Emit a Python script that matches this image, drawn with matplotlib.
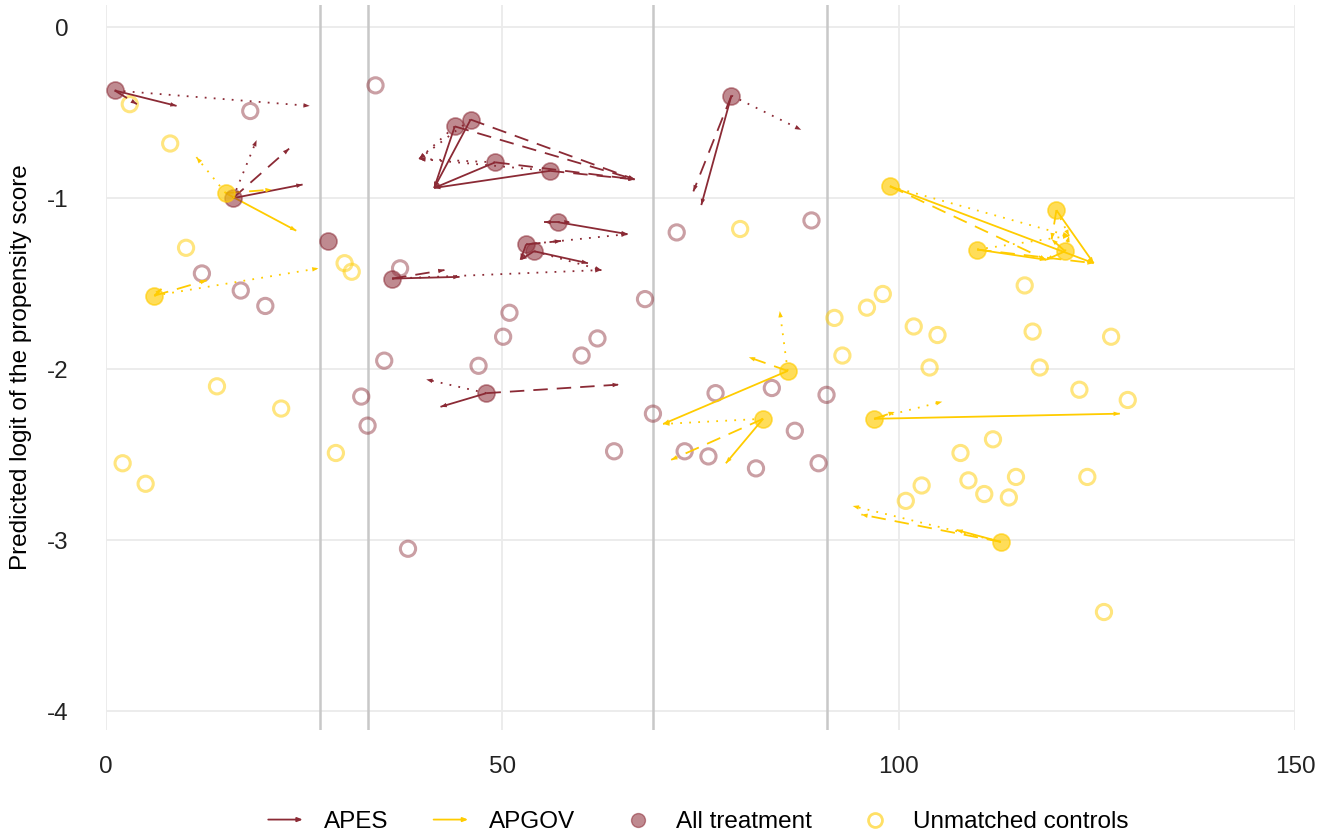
import matplotlib
matplotlib.use("Agg")
import matplotlib.pyplot as plt
from matplotlib.patches import FancyArrowPatch
from matplotlib.legend_handler import HandlerBase
from matplotlib.lines import Line2D

plt.rcParams["font.family"] = ["Liberation Sans", "DejaVu Sans"]

# caliper / cutoff lines
cutoffs = [27, 33, 69, 91]

# APES treated units and their 1st (solid), 2nd (dashed), 3rd (dotted) matches
apes_tx_x = [1.1, 16.0, 28.0, 36.1, 44.0, 46.0, 49.1, 56.0, 57.0, 53.0, 54.0, 48.0, 78.9]
apes_tx_y = [-0.37, -1.00, -1.25, -1.47, -0.58, -0.54, -0.79, -0.84, -1.14, -1.27, -1.31, -2.14, -0.40]
apes_m1_x = [8.9, 24.8, None, 44.6, 41.4, 41.4, 41.4, 41.4, 65.8, 52.3, 60.8, 42.2, 75.1]
apes_m1_y = [-0.46, -0.92, None, -1.46, -0.94, -0.94, -0.94, -0.94, -1.21, -1.36, -1.38, -2.22, -1.04]
apes_m2_x = [3.9, 23.1, None, 42.7, 66.7, 66.7, 66.7, 66.7, 55.3, 57.4, 52.3, 64.7, 74.1]
apes_m2_y = [-0.45, -0.71, None, -1.42, -0.89, -0.89, -0.89, -0.89, -1.14, -1.25, -1.36, -2.09, -0.96]
apes_m3_x = [25.7, 19.0, None, 62.5, 39.5, 39.5, 39.5, 39.5, 58.6, 65.8, 62.5, 40.4, 87.7]
apes_m3_y = [-0.46, -0.66, None, -1.42, -0.77, -0.77, -0.77, -0.77, -1.14, -1.21, -1.42, -2.06, -0.60]

# APGOV treated units and matches
apgov_tx_x = [15.1, 6.1, 98.9, 119.9, 109.9, 121.0, 86.0, 82.9, 96.9, 112.9]
apgov_tx_y = [-0.97, -1.57, -0.93, -1.07, -1.30, -1.31, -2.01, -2.29, -2.29, -3.01]
apgov_m1_x = [24.0, 7.0, 124.6, 124.6, 118.6, 118.6, 70.3, 78.2, 127.9, 107.3]
apgov_m1_y = [-1.19, -1.53, -1.38, -1.38, -1.36, -1.36, -2.32, -2.55, -2.26, -2.94]
apgov_m2_x = [20.9, 12.7, 118.6, 119.3, 124.6, 119.3, 81.1, 71.3, 99.5, 95.3]
apgov_m2_y = [-0.95, -1.48, -1.36, -1.24, -1.38, -1.24, -1.93, -2.53, -2.25, -2.85]
apgov_m3_x = [11.4, 26.8, 121.5, 121.5, 121.5, 121.5, 85.0, 70.3, 105.5, 94.2]
apgov_m3_y = [-0.76, -1.41, -1.22, -1.22, -1.22, -1.22, -1.66, -2.32, -2.19, -2.80]

# unmatched controls
apes_ctrl_x = [18.2, 34.0, 12.1, 17.0, 20.1, 37.1, 35.1, 32.2, 33.0, 38.1, 50.9, 50.1, 47.0,
               60.0, 62.0, 64.1, 68.0, 69.0, 72.0, 73.0, 76.0, 76.9, 82.0, 84.0, 86.9, 89.0,
               89.9, 90.9]
apes_ctrl_y = [-0.49, -0.34, -1.44, -1.54, -1.63, -1.41, -1.95, -2.16, -2.33, -3.05, -1.67, -1.81, -1.98,
               -1.92, -1.82, -2.48, -1.59, -2.26, -1.20, -2.48, -2.51, -2.14, -2.58, -2.11, -2.36, -1.13,
               -2.55, -2.15]
apgov_ctrl_x = [3.0, 8.1, 10.1, 2.1, 5.0, 14.0, 22.1, 29.0, 30.1, 31.0, 80.0, 91.9, 92.9, 96.0,
                98.0, 101.9, 104.9, 103.9, 115.9, 116.9, 117.8, 126.8, 122.8, 128.9, 111.9, 107.8,
                108.8, 110.8, 102.9, 100.9, 114.8, 113.9, 123.8, 125.9]
apgov_ctrl_y = [-0.45, -0.68, -1.29, -2.55, -2.67, -2.10, -2.23, -2.49, -1.38, -1.43, -1.18, -1.70, -1.92, -1.64,
                -1.56, -1.75, -1.80, -1.99, -1.51, -1.78, -1.99, -1.81, -2.12, -2.18, -2.41, -2.49,
                -2.65, -2.73, -2.68, -2.77, -2.63, -2.75, -2.63, -3.42]

MAROON = "#8b2a35"
GOLD = "#ffcc00"
FS = 17.5


def draw_arrow(ax, x0, y0, x1, y1, color, style):
    if style == "dashed":
        ls = (0, (8, 5))
    elif style == "dotted":
        ls = (0, (1, 4))
    else:
        ls = "-"
    ax.plot([x0, x1], [y0, y1], color=color, lw=1.3, linestyle=ls, zorder=2,
            solid_capstyle="butt", dash_capstyle="butt")
    ax.annotate("", xy=(x1, y1), xytext=(x0, y0),
                arrowprops=dict(arrowstyle="-|>,head_length=0.45,head_width=0.16",
                                color=color, lw=0, shrinkA=0, shrinkB=0),
                zorder=3)


def draw_group(ax, tx_x, tx_y, matches, color):
    for (mx, my), style in zip(matches, ["solid", "dashed", "dotted"]):
        for x0, y0, x1, y1 in zip(tx_x, tx_y, mx, my):
            if x1 is None:
                continue
            draw_arrow(ax, x0, y0, x1, y1, color, style)


class ArrowHandler(HandlerBase):
    def create_artists(self, legend, orig_handle, xdescent, ydescent, width, height, fontsize, trans):
        y = height / 2 - ydescent
        a = FancyArrowPatch((-xdescent, y), (width - xdescent, y),
                            arrowstyle="-|>,head_length=3,head_width=1.2",
                            color=orig_handle.get_color(), lw=1.3, mutation_scale=1,
                            transform=trans)
        return [a]


fig = plt.figure(figsize=(13.34, 8.39), dpi=100)
ax = fig.add_axes([106 / 1334, 1 - 730 / 839, 1189 / 1334, 725 / 839])

for c in cutoffs:
    ax.axvline(c, color="#c8c8c8", lw=1.8, zorder=1)

ax.scatter(apes_ctrl_x, apes_ctrl_y, s=120, facecolors="none", edgecolors=MAROON,
           linewidths=2.2, alpha=0.45, zorder=2)
ax.scatter(apgov_ctrl_x, apgov_ctrl_y, s=120, facecolors="none", edgecolors=GOLD,
           linewidths=2.2, alpha=0.5, zorder=2)

draw_group(ax, apes_tx_x, apes_tx_y,
           [(apes_m1_x, apes_m1_y), (apes_m2_x, apes_m2_y), (apes_m3_x, apes_m3_y)], MAROON)
draw_group(ax, apgov_tx_x, apgov_tx_y,
           [(apgov_m1_x, apgov_m1_y), (apgov_m2_x, apgov_m2_y), (apgov_m3_x, apgov_m3_y)], GOLD)

ax.scatter(apes_tx_x, apes_tx_y, s=150, color=MAROON, alpha=0.55, edgecolors=MAROON,
           linewidths=1.2, zorder=4)
ax.scatter(apgov_tx_x, apgov_tx_y, s=150, color=GOLD, alpha=0.65, edgecolors=GOLD,
           linewidths=1.2, zorder=4)

ax.set_xlim(0, 150)
ax.set_ylim(-4.11, 0.13)
ax.set_xticks([0, 50, 100, 150])
ax.set_yticks([0, -1, -2, -3, -4])
ax.set_yticklabels(["0", "-1", "-2", "-3", "-4"])
ax.grid(True, color="#ebebeb", lw=1.3, zorder=0)
ax.set_axisbelow(True)
for s in ax.spines.values():
    s.set_visible(False)
ax.tick_params(axis="both", length=0, labelsize=FS, labelcolor="#222222")
ax.tick_params(axis="x", pad=19)
ax.tick_params(axis="y", pad=27)
ax.set_ylabel("Predicted logit of the propensity score", fontsize=FS)
ax.yaxis.set_label_coords(-0.062, 0.5)

h_apes = Line2D([], [], color=MAROON)
h_apgov = Line2D([], [], color=GOLD)
h_tx = Line2D([], [], linestyle="none", marker="o", markersize=10,
              markerfacecolor=MAROON, markeredgecolor=MAROON, alpha=0.55)
h_ctrl = Line2D([], [], linestyle="none", marker="o", markersize=10,
                markerfacecolor="none", markeredgecolor=GOLD, markeredgewidth=2, alpha=0.6)
ax.legend([h_apes, h_apgov, h_tx, h_ctrl],
          ["APES", "APGOV", "All treatment", "Unmatched controls"],
          handler_map={h_apes: ArrowHandler(), h_apgov: ArrowHandler()},
          loc="center", bbox_to_anchor=(0.497, -0.127), ncol=4, frameon=False,
          fontsize=FS, handlelength=1.65, columnspacing=1.75, handletextpad=0.75)

fig.savefig("out.png", dpi=100)
